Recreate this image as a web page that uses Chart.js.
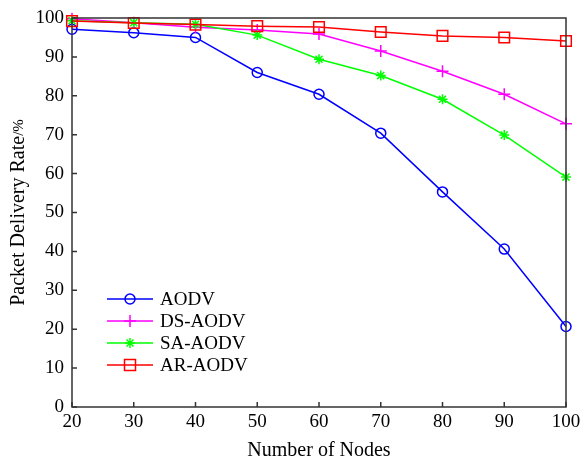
<!DOCTYPE html>
<html>
<head>
<meta charset="utf-8">
<script src="https://cdn.jsdelivr.net/npm/chart.js@4.4.1/dist/chart.umd.min.js"></script>
<style>
  body { margin: 0; background: #fff; }
  #wrap { width: 582px; height: 463px; position: relative; }
</style>
</head>
<body>
<div id="wrap"><canvas id="grafico"></canvas></div>
<script>
// Dados
const nodes = [20, 30, 40, 50, 60, 70, 80, 90, 100];
const aodv   = [97.1, 96.2, 95.0, 86.0, 80.4, 70.4, 55.3, 40.6, 20.7];
const dsAodv = [99.8, 98.8, 97.6, 96.9, 95.9, 91.5, 86.3, 80.4, 72.8];
const saAodv = [99.3, 98.8, 98.4, 95.6, 89.4, 85.2, 79.1, 69.9, 59.1];
const arAodv = [99.2, 98.7, 98.3, 97.9, 97.7, 96.4, 95.4, 95.0, 94.1];
const seriesNames = ['AODV', 'DS-AODV', 'SA-AODV', 'AR-AODV'];
const xTicks = [20, 30, 40, 50, 60, 70, 80, 90, 100];
const yTicks = [0, 10, 20, 30, 40, 50, 60, 70, 80, 90, 100];

const fonte = 'Liberation Serif';
const cores = ['#0000ff', '#ff00ff', '#00ff00', '#ff0000'];
const estilos = ['circle', 'cross', 'star', 'rect'];
const raios = [5, 6, 5, 7.5];

function pontos(vals) {
  return vals.map((v, i) => ({ x: nodes[i], y: v }));
}

// desenha marcador na legenda
function marcador(ctx, tipo, x, y, cor) {
  ctx.save();
  ctx.strokeStyle = cor;
  ctx.lineWidth = 1.5;
  ctx.beginPath();
  if (tipo === 'circle') {
    ctx.arc(x, y, 5, 0, Math.PI * 2);
  } else if (tipo === 'cross') {
    ctx.moveTo(x, y - 6); ctx.lineTo(x, y + 6);
    ctx.moveTo(x - 6, y); ctx.lineTo(x + 6, y);
  } else if (tipo === 'star') {
    ctx.moveTo(x, y - 5); ctx.lineTo(x, y + 5);
    ctx.moveTo(x - 5, y); ctx.lineTo(x + 5, y);
    ctx.moveTo(x - 3.5, y - 3.5); ctx.lineTo(x + 3.5, y + 3.5);
    ctx.moveTo(x - 3.5, y + 3.5); ctx.lineTo(x + 3.5, y - 3.5);
  } else {
    ctx.rect(x - 5.5, y - 5.5, 11, 11);
  }
  ctx.stroke();
  ctx.restore();
}

const moldura = {
  id: 'moldura',
  afterDraw(chart) {
    const { ctx, chartArea: a, scales } = chart;
    ctx.save();
    ctx.strokeStyle = '#333';
    ctx.lineWidth = 1.5;
    // caixa
    ctx.strokeRect(a.left, a.top, a.right - a.left, a.bottom - a.top);
    // ticks para dentro
    ctx.beginPath();
    xTicks.forEach(t => {
      const px = scales.x.getPixelForValue(t);
      ctx.moveTo(px, a.bottom); ctx.lineTo(px, a.bottom - 5);
    });
    yTicks.forEach(t => {
      const py = scales.y.getPixelForValue(t);
      ctx.moveTo(a.left, py); ctx.lineTo(a.left + 5, py);
    });
    ctx.stroke();

    // titulo do eixo y (com "/%" menor)
    ctx.save();
    ctx.translate(19, (a.top + a.bottom) / 2);
    ctx.rotate(-Math.PI / 2);
    ctx.fillStyle = '#000';
    ctx.textBaseline = 'middle';
    const f1 = '20px "' + fonte + '"';
    const f2 = '15px "' + fonte + '"';
    const t1 = 'Packet Delivery Rate', t2 = '/%';
    ctx.font = f1; const w1 = ctx.measureText(t1).width;
    ctx.font = f2; const w2 = ctx.measureText(t2).width;
    const x0 = -(w1 + w2) / 2;
    ctx.font = f1; ctx.fillText(t1, x0, 0);
    ctx.font = f2; ctx.fillText(t2, x0 + w1, 0);
    ctx.restore();

    // legenda
    ctx.font = '19px "' + fonte + '"';
    ctx.textBaseline = 'middle';
    ctx.fillStyle = '#000';
    seriesNames.forEach((nome, i) => {
      const y = a.top + 281 + i * 22;
      const x0 = a.left + 35;
      ctx.strokeStyle = cores[i];
      ctx.lineWidth = 1.5;
      ctx.beginPath();
      ctx.moveTo(x0, y); ctx.lineTo(x0 + 46, y);
      ctx.stroke();
      marcador(ctx, estilos[i], x0 + 23, y, cores[i]);
      ctx.fillText(nome, x0 + 53, y + 1);
    });
    ctx.restore();
  }
};

const ctx = document.getElementById('grafico').getContext('2d');
const grafico = new Chart(ctx, {
  type: 'line',
  data: {
    datasets: [aodv, dsAodv, saAodv, arAodv].map((vals, i) => ({
      label: seriesNames[i],
      data: pontos(vals),
      borderColor: cores[i],
      backgroundColor: 'transparent',
      borderWidth: 1.5,
      pointStyle: estilos[i],
      pointRadius: raios[i],
      pointBorderColor: cores[i],
      pointBorderWidth: 1.5,
      pointBackgroundColor: 'transparent',
      tension: 0,
      clip: false,
      order: 4 - i
    }))
  },
  options: {
    responsive: true,
    maintainAspectRatio: false,
    animation: false,
    layout: { padding: { top: 18, right: 16, left: 0, bottom: 0 } },
    plugins: {
      legend: { display: false },
      tooltip: { enabled: false }
    },
    scales: {
      x: {
        type: 'linear',
        min: 20,
        max: 100,
        afterBuildTicks: s => { s.ticks = xTicks.map(v => ({ value: v })); },
        afterFit: s => { s.height = 56; s.paddingLeft = 0; s.paddingRight = 0; },
        ticks: {
          color: '#000',
          padding: 4,
          maxRotation: 0,
          font: { family: fonte, size: 19 }
        },
        grid: { display: false, drawTicks: false },
        border: { display: false },
        title: {
          display: true,
          text: 'Number of Nodes',
          color: '#000',
          padding: { top: 6, bottom: 0 },
          font: { family: fonte, size: 20 }
        }
      },
      y: {
        min: 0,
        max: 100,
        afterBuildTicks: s => { s.ticks = yTicks.map(v => ({ value: v })); },
        afterFit: s => { s.width = 72; s.paddingTop = 0; s.paddingBottom = 0; },
        ticks: {
          color: '#000',
          padding: 8,
          font: { family: fonte, size: 19 }
        },
        grid: { display: false, drawTicks: false },
        border: { display: false },
        title: { display: false }
      }
    }
  },
  plugins: [moldura]
});
</script>
</body>
</html>
